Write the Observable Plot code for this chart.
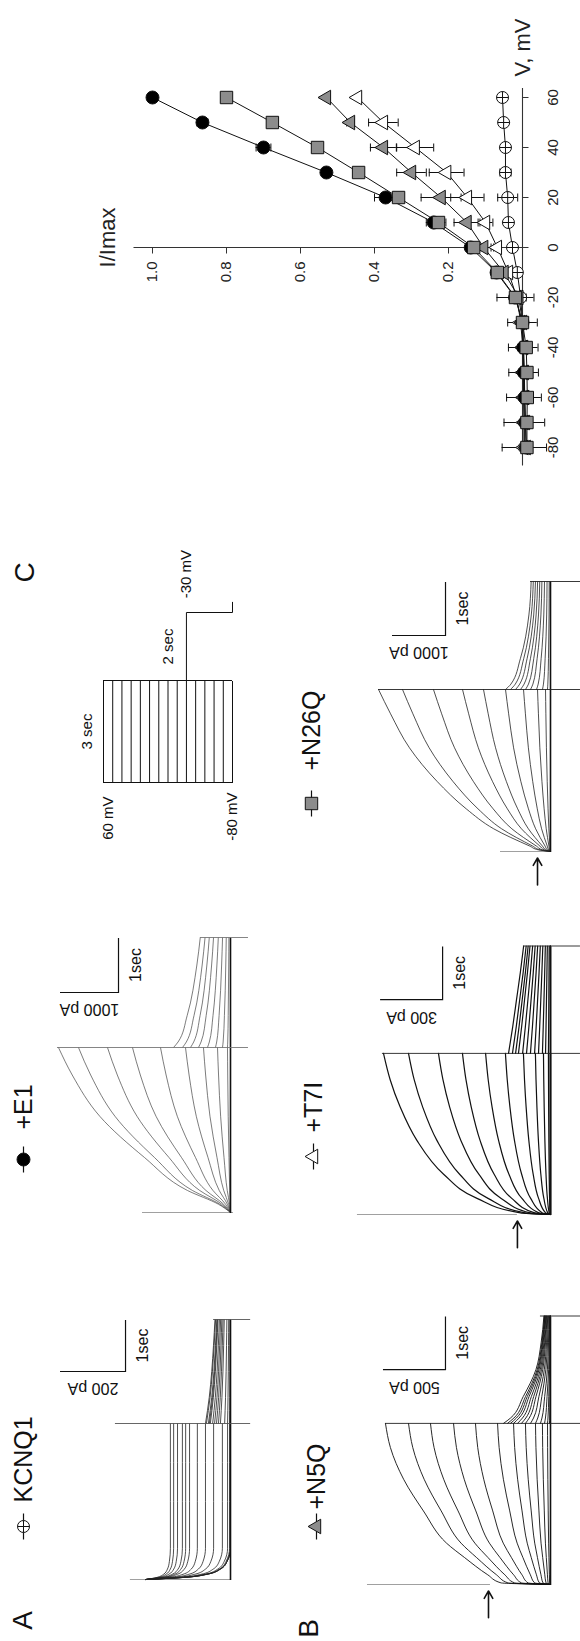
<!DOCTYPE html>
<html>
<head>
<meta charset="utf-8">
<script src="https://cdn.jsdelivr.net/npm/d3@7"></script>
<script src="https://cdn.jsdelivr.net/npm/@observablehq/plot@0.6"></script>
<style>
html, body { margin: 0; padding: 0; background: #fff; }
body { width: 580px; height: 1641px; overflow: hidden; position: relative; }
#land { position: absolute; left: 0; top: 0; width: 1641px; height: 580px; transform-origin: 0 0; transform: translate(0px, 1641px) rotate(-90deg); }
#land svg { position: absolute; left: 0; top: 0; }
</style>
</head>
<body>
<div id="land"></div>
<script>
// ---------------- DATA ----------------
const voltages = [-80, -70, -60, -50, -40, -30, -20, -10, 0, 10, 20, 30, 40, 50, 60];
const vTicks = [-80, -60, -40, -20, 0, 20, 40, 60];
const iTicks = [0.2, 0.4, 0.6, 0.8, 1.0];
const ivSeries = ["KCNQ1", "+E1", "+N5Q", "+T7I", "+N26Q"];

// Panel C: normalized current I/Imax vs voltage
const ivKCNQ1 = [-0.005, -0.005, -0.004, -0.003, -0.002, 0.000, 0.005, 0.014, 0.027, 0.038, 0.040, 0.046, 0.046, 0.051, 0.054];
const ivE1    = [-0.010, -0.008, -0.006, -0.004, -0.002, 0.000, 0.020, 0.070, 0.140, 0.240, 0.370, 0.530, 0.700, 0.865, 1.000];
const ivN5Q   = [-0.010, -0.008, -0.006, -0.005, -0.003, 0.000, 0.010, 0.050, 0.105, 0.150, 0.220, 0.300, 0.376, 0.465, 0.530];
const ivT7I   = [-0.004, -0.004, -0.003, -0.002, -0.001, 0.005, 0.015, 0.038, 0.068, 0.100, 0.149, 0.205, 0.290, 0.376, 0.446];
const ivN26Q  = [-0.012, -0.012, -0.013, -0.012, -0.010, 0.000, 0.019, 0.068, 0.132, 0.227, 0.335, 0.443, 0.554, 0.676, 0.800];
const errKCNQ1 = [0.060, 0.055, 0.047, 0.040, 0.040, 0.040, 0.015, 0.010, 0.008, 0.010, 0.027, 0.015, 0.010, 0.010, 0.010];
const errE1    = [0, 0, 0, 0, 0, 0, 0, 0.010, 0.010, 0.020, 0.030, 0.010, 0.020, 0.015, 0];
const errN5Q   = [0, 0, 0, 0, 0, 0, 0.010, 0.020, 0.020, 0.035, 0.054, 0.040, 0.035, 0.010, 0];
const errT7I   = [0, 0, 0, 0, 0, 0.010, 0.015, 0.030, 0.010, 0.020, 0.045, 0.047, 0.050, 0.040, 0];
const errN26Q  = [0.010, 0.010, 0.010, 0.010, 0.010, 0.010, 0.050, 0.010, 0.020, 0.020, 0.010, 0, 0, 0, 0];

// Voltage protocol
const protocolDurations = [3, 2];      // s: test step, tail step
const protocolTailV = -30;             // mV
const protocolHoldV = -80;             // mV

// Current traces (pA). Activation = normalized time course x end-of-step current.
const kcnq1Transient = 260;
const kcnq1ActT = [0, 0.04, 0.1, 0.2, 0.35, 0.6, 1.5, 3.0];
const kcnq1ActShape = [0, 0.45, 0.72, 0.88, 0.96, 1.0, 1.0, 1.0];
const kcnq1ActEnd = [0, 0, 0, 3, 9, 25, 52, 77, 102, 126, 138, 148, 163, 175, 185];
const kcnq1TailT = [0, 0.5, 1.0, 1.5, 2.0];
const kcnq1TailShape = [1, 0.85, 0.75, 0.68, 0.62];
const kcnq1TailStart = [0, 0, 3, 9, 18, 31, 37, 43, 49, 55, 62, 65, 68, 74, 77];

const e1ActT = [0, 0.15, 0.4, 1.0, 1.75, 2.5, 3.0];
const e1ActShape = [0, 0.07, 0.25, 0.5, 0.76, 0.92, 1.0];
const e1ActEnd = [0, 0, 0, 0, 0, 0, 52, 224, 466, 776, 1207, 1690, 2121, 2621, 2966];
const e1TailT = [0, 0.1, 0.58, 1.5, 2.0];
const e1TailShape = [1, 0.92, 0.76, 0.59, 0.53];
const e1TailStart = [0, 0, 0, 0, 0, 0, 0, 52, 138, 259, 397, 552, 690, 828, 983];

const n5qActT = [0, 0.03, 0.18, 0.5, 0.77, 1.37, 1.96, 2.55, 3.0];
const n5qActShape = [0, 0.30, 0.38, 0.52, 0.63, 0.77, 0.89, 0.97, 1.0];
const n5qActEnd = [0, 0, 0, 0, 24, 65, 121, 202, 298, 427, 605, 782, 968, 1145, 1331];
const n5qTailT = [0, 0.1, 0.5, 1.0, 1.5, 2.0];
const n5qTailShape = [1, 0.85, 0.58, 0.31, 0.2, 0.14];
const n5qTailStart = [0, 0, 8, 24, 48, 81, 121, 161, 202, 234, 266, 298, 323, 347, 379];

const t7iActT = [0, 0.03, 0.3, 0.75, 1.38, 2.0, 2.51, 3.0];
const t7iActShape = [0, 0.18, 0.44, 0.64, 0.80, 0.90, 0.96, 1.0];
const t7iActEnd = [0, 0, 0, 0, 0, 10, 34, 73, 131, 218, 314, 426, 542, 687, 808];
const t7iTailT = [0, 0.5, 1.0, 1.5, 2.0];
const t7iTailShape = [1, 0.9, 0.81, 0.72, 0.64];
const t7iTailStart = [0, 0, 0, 10, 24, 39, 58, 77, 97, 116, 135, 155, 169, 184, 203];

const n26qActT = [0, 0.03, 0.1, 0.42, 0.79, 1.3, 1.92, 2.55, 3.0];
const n26qActShape = [0, 0.07, 0.12, 0.33, 0.49, 0.66, 0.82, 0.93, 1.0];
const n26qActEnd = [0, 0, 0, 0, 0, 0, 94, 245, 509, 849, 1264, 1660, 2208, 2792, 3245];
const n26qTailT = [0, 0.1, 0.57, 1.38, 2.0];
const n26qTailShape = [1, 0.88, 0.67, 0.48, 0.43];
const n26qTailStart = [0, 0, 0, 0, 0, 0, 57, 151, 264, 377, 472, 566, 660, 755, 849];

// Scale bars and artifacts (pA)
const scaleBarPA = [200, 1000, 500, 300, 1000];
const scaleBarBase = [323, 1931, 847, 522, 1981];
const startArtifact = [[0, 308], [-52, 1517], [484, 1476], [160, 934], [0, 943]];
const stepArtifact = [[-62, 354], [-310, 2983], [-242, 1331], [-145, 813], [-566, 3245]];
const endArtifact = [[-62, 52], [-310, 517], [-242, 81], [-145, 131], [-566, 377]];
const arrowLevel = [null, null, 500, 160, 245];

// ---------------- LAYOUT / STYLE ----------------
const FONT = "'Liberation Sans', Arial, Helvetica, sans-serif";
const W = 1641, H = 580;
const base = {width: W, height: H, margin: 0, style: {background: "none", overflow: "visible", fontFamily: FONT, color: "#111"}};
const land = document.getElementById("land");
const add = (p) => land.appendChild(p);

const panelLayout = [
  {t0: 61, pps: 52, base: 230, ppa: 0.325, stroke: "#222", w: 0.8, art: "#555"},
  {t0: 428, pps: 55, base: 230, ppa: 0.058, stroke: "#444", w: 0.7, art: "#777"},
  {t0: 56, pps: 53.7, base: 550, ppa: 0.124, stroke: "#111", w: 0.9, art: "#222"},
  {t0: 426, pps: 53.7, base: 550, ppa: 0.2067, stroke: "#111", w: 1.2, art: "#222"},
  {t0: 789, pps: 54, base: 550, ppa: 0.053, stroke: "#222", w: 0.8, art: "#222"}
];

const tracePanels = [
  {actT: kcnq1ActT, actShape: kcnq1ActShape, actStart: kcnq1Transient, actEnd: kcnq1ActEnd, tailT: kcnq1TailT, tailShape: kcnq1TailShape, tailStart: kcnq1TailStart},
  {actT: e1ActT, actShape: e1ActShape, actStart: 0, actEnd: e1ActEnd, tailT: e1TailT, tailShape: e1TailShape, tailStart: e1TailStart},
  {actT: n5qActT, actShape: n5qActShape, actStart: 0, actEnd: n5qActEnd, tailT: n5qTailT, tailShape: n5qTailShape, tailStart: n5qTailStart},
  {actT: t7iActT, actShape: t7iActShape, actStart: 0, actEnd: t7iActEnd, tailT: t7iTailT, tailShape: t7iTailShape, tailStart: t7iTailStart},
  {actT: n26qActT, actShape: n26qActShape, actStart: 0, actEnd: n26qActEnd, tailT: n26qTailT, tailShape: n26qTailShape, tailStart: n26qTailStart}
];

const stepEnd = protocolDurations[0];
const traceEnd = protocolDurations[0] + protocolDurations[1];

tracePanels.forEach((p, k) => {
  const L = panelLayout[k];
  const rows = [];
  voltages.forEach((v, i) => {
    p.actT.forEach((t, j) => rows.push({key: "a" + v, t, I: p.actStart + (p.actEnd[i] - p.actStart) * p.actShape[j]}));
    p.tailT.forEach((t, j) => rows.push({key: "t" + v, t: stepEnd + t, I: p.tailStart[i] * p.tailShape[j]}));
  });
  const marks = [
    Plot.ruleX([0], {y1: startArtifact[k][0], y2: startArtifact[k][1], stroke: "#a0a0a0", strokeWidth: 1}),
    Plot.line(rows, {x: "t", y: "I", z: "key", curve: "monotone-x", stroke: L.stroke, strokeWidth: L.w}),
    Plot.ruleY([0], {x1: 0, x2: traceEnd, stroke: "#111", strokeWidth: 1.6}),
    Plot.ruleX([stepEnd], {y1: stepArtifact[k][0], y2: stepArtifact[k][1], stroke: L.art, strokeWidth: 0.9}),
    Plot.ruleX([traceEnd], {y1: endArtifact[k][0], y2: endArtifact[k][1], stroke: L.art, strokeWidth: 0.9}),
    Plot.ruleX([traceEnd - 1], {y1: scaleBarBase[k], y2: scaleBarBase[k] + scaleBarPA[k], stroke: "#111", strokeWidth: 1.2}),
    Plot.ruleY([scaleBarBase[k]], {x1: traceEnd - 1, x2: traceEnd, stroke: "#111", strokeWidth: 1.2}),
    Plot.text([`${scaleBarPA[k]} pA`], {x: traceEnd - 1, y: scaleBarBase[k] + scaleBarPA[k] / 2, dx: -17, rotate: -90, fontSize: 16, fill: "#111"}),
    Plot.text(["1sec"], {x: traceEnd - 0.5, y: scaleBarBase[k], dy: 17, fontSize: 16, fill: "#111"})
  ];
  if (arrowLevel[k] != null) {
    marks.push(Plot.arrow([arrowLevel[k]], {x1: -0.62, x2: -0.12, y1: d => d, y2: d => d, stroke: "#111", strokeWidth: 1.6, headLength: 8}));
  }
  add(Plot.plot({
    ...base,
    x: {domain: [0, traceEnd], range: [L.t0, L.t0 + traceEnd * L.pps], axis: null},
    y: {domain: [0, 1000], range: [L.base, L.base - 1000 * L.ppa], axis: null},
    marks
  }));
});

// ---------------- Protocol ----------------
const tailPath = [
  {t: stepEnd, v: protocolTailV},
  {t: traceEnd, v: protocolTailV},
  {t: traceEnd, v: protocolHoldV},
  {t: traceEnd + 0.3, v: protocolHoldV}
];
add(Plot.plot({
  ...base,
  x: {domain: [0, traceEnd], range: [858, 1028], axis: null},
  y: {domain: [-80, 60], range: [232, 103], axis: null},
  marks: [
    Plot.ruleY(voltages, {y: d => d, x1: 0, x2: stepEnd, stroke: "#111", strokeWidth: 1}),
    Plot.ruleX([0, stepEnd], {y1: -80, y2: 60, stroke: "#111", strokeWidth: 1}),
    Plot.line(tailPath, {x: "t", y: "v", stroke: "#111", strokeWidth: 1}),
    Plot.text(["60 mV"], {x: 0, y: 60, dx: -14, dy: 5, textAnchor: "end", fontSize: 15}),
    Plot.text(["-80 mV"], {x: 0, y: -80, dx: -10, textAnchor: "end", fontSize: 15}),
    Plot.text(["3 sec"], {x: stepEnd / 2, y: 60, dy: -16, fontSize: 15}),
    Plot.text(["2 sec"], {x: stepEnd + protocolDurations[1] / 2, y: protocolTailV, dy: -18, fontSize: 15}),
    Plot.text(["-30 mV"], {x: traceEnd + 0.3, y: protocolTailV, dx: 4, textAnchor: "start", fontSize: 15})
  ]
}));

// ---------------- Panel C : I/V ----------------
const ivValues = [ivKCNQ1, ivE1, ivN5Q, ivT7I, ivN26Q];
const ivErrors = [errKCNQ1, errE1, errN5Q, errT7I, errN26Q];
const ivRows = ivSeries.flatMap((s, k) => voltages.map((V, i) => ({s, k, V, I: ivValues[k][i], e: ivErrors[k][i]})));
const errRows = ivRows.filter(d => d.e > 0);
const seriesStyle = [
  {symbol: "circle", fill: "white", r: 6, plus: true},
  {symbol: "circle", fill: "black", r: 6.5},
  {symbol: "triangle", fill: "#8c8c8c", r: 5.4},
  {symbol: "triangle", fill: "white", r: 5.4},
  {symbol: "square", fill: "#8c8c8c", r: 7}
];
function markerMarks(data, x, y, k) {
  const st = seriesStyle[k];
  const m = [Plot.dot(data, {x, y, symbol: st.symbol, r: st.r, fill: st.fill, stroke: "#111", strokeWidth: 1})];
  if (st.plus) m.push(Plot.dot(data, {x, y, symbol: "plus", r: 4, fill: "none", stroke: "#111", strokeWidth: 1}));
  return m;
}
const pxPerI = 370, pxPerV = 2.5;
const drawOrder = [0, 3, 2, 1, 4];
add(Plot.plot({
  ...base,
  x: {domain: [-80, 60], range: [1193, 1543], axis: null},
  y: {domain: [0, 1], range: [522, 152], axis: null},
  marks: [
    Plot.ruleY([0], {x1: -87, x2: 64, stroke: "#333", strokeWidth: 1.1}),
    Plot.ruleX([0], {y1: -0.012, y2: 1.05, stroke: "#333", strokeWidth: 1.1}),
    Plot.link(vTicks, {x1: d => d, x2: d => d, y1: 0, y2: -6 / pxPerI, stroke: "#333"}),
    Plot.link(iTicks, {x1: 0, x2: -6 / pxPerV, y1: d => d, y2: d => d, stroke: "#333"}),
    Plot.text(vTicks, {x: d => d, y: 0, dy: 31, text: d => String(d), fontSize: 15, fill: "#222"}),
    Plot.text(iTicks, {x: 0, y: d => d, dx: -14, textAnchor: "end", text: d => d.toFixed(1), fontSize: 15, fill: "#222"}),
    Plot.text(["I/Imax"], {x: 0, y: 1.05, dx: 10, dy: -26, fontSize: 22, fill: "#222"}),
    Plot.text(["V, mV"], {x: 64, y: 0, dx: 11, textAnchor: "start", fontSize: 22, fill: "#222"}),
    Plot.line(ivRows, {x: "V", y: "I", z: "s", stroke: "#111", strokeWidth: 1}),
    Plot.ruleX(errRows, {x: "V", y1: d => d.I - d.e, y2: d => d.I + d.e, stroke: "#111", strokeWidth: 1}),
    Plot.link(errRows, {x1: d => d.V - 1.6, x2: d => d.V + 1.6, y1: d => d.I + d.e, y2: d => d.I + d.e, stroke: "#111"}),
    Plot.link(errRows, {x1: d => d.V - 1.6, x2: d => d.V + 1.6, y1: d => d.I - d.e, y2: d => d.I - d.e, stroke: "#111"}),
    ...drawOrder.flatMap(k => markerMarks(ivRows.filter(d => d.k === k), "V", "I", k))
  ]
}));

// ---------------- Labels & legends ----------------
const legendPos = [
  {mx: 114, tx: 138, y: 23},
  {mx: 481, tx: 511, y: 23},
  {mx: 114, tx: 131, y: 316},
  {mx: 484, tx: 508, y: 313},
  {mx: 837, tx: 870, y: 311}
];
const panelLetters = ["A", "B", "C"];
const letterPos = [{x: 20, y: 23}, {x: 12, y: 309}, {x: 1068, y: 25}];
const legendRows = ivSeries.map((s, k) => ({s, k, ...legendPos[k]}));
const letterRows = panelLetters.map((l, i) => ({l, ...letterPos[i]}));
add(Plot.plot({
  ...base,
  x: {type: "identity", axis: null},
  y: {type: "identity", axis: null},
  marks: [
    Plot.link(legendRows, {x1: d => d.mx - 13, x2: d => d.mx + 13, y1: "y", y2: "y", stroke: "#111", strokeWidth: 1.2}),
    ...legendRows.flatMap(d => markerMarks([d], "mx", "y", d.k)),
    Plot.text(legendRows, {x: "tx", y: "y", text: "s", textAnchor: "start", fontSize: 25, fill: "#111"}),
    Plot.text(letterRows, {x: "x", y: "y", text: "l", fontSize: 28, fill: "#111"})
  ]
}));
</script>
</body>
</html>
